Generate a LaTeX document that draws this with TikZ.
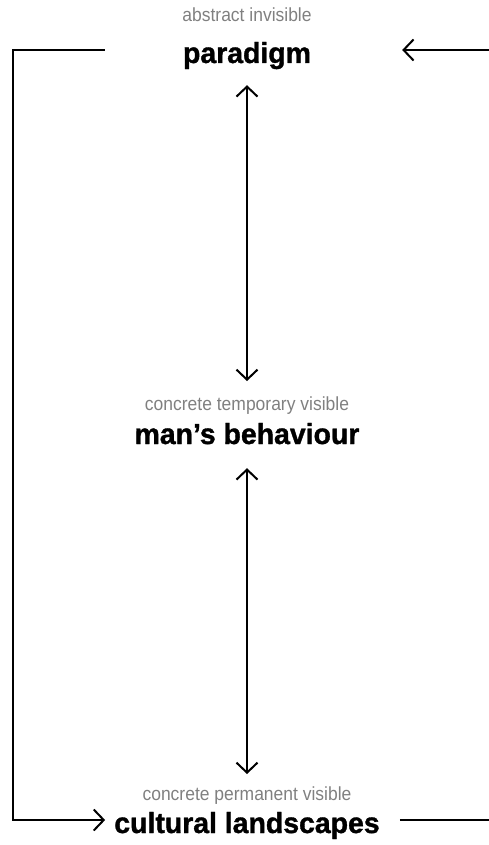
\documentclass[tikz,border=0pt]{standalone}
\usepackage{fontspec}
\setmainfont{Liberation Sans}
\newfontfamily\headfont[FakeStretch=0.98,FakeBold=1.2]{Liberation Sans}
\newfontfamily\subfont[FakeStretch=0.92]{Liberation Sans}
\usetikzlibrary{arrows.meta}
\tikzset{
  sub/.style={anchor=base,inner sep=0pt,font=\subfont\fontsize{19}{20}\selectfont,text=black!50},
  hd/.style={anchor=base,inner sep=0pt,font=\headfont\bfseries\fontsize{29}{30}\selectfont,text height=26pt,text depth=0pt},
  ln/.style={line width=2pt},
  arr/.style={ln,-{Straight Barb[length=10pt,width=21pt]}},
  darr/.style={ln,{Straight Barb[length=10pt,width=21pt]}-{Straight Barb[length=10pt,width=21pt]}},
}
\begin{document}
\begin{tikzpicture}[x=1pt,y=-1pt]
\useasboundingbox (0,0) rectangle (489,845);
\node[sub] (sabs) at (247,22) {abstract invisible};
\node[hd] (para) at (247,63) {paradigm};
\node[sub] (stemp) at (247,410) {concrete temporary visible};
\node[hd] (man) at (247,444) {man’s behaviour};
\node[sub] (sperm) at (247,800) {concrete permanent visible};
\node[hd] (cult) at (247,833) {cultural landscapes};
\coordinate (rail) at (13,440);
\coordinate (intop) at (489,50);
\coordinate (outbot) at (489,820);
\draw[darr,shorten <=22pt,shorten >=15pt] (para.south) -- (stemp.north);
\draw[darr,shorten <=24pt,shorten >=12pt] (man.south) -- (sperm.north);
\draw[arr,shorten <=78pt,shorten >=9pt] (para.west) -| (rail) |- (cult.west);
\draw[arr,shorten >=91pt] (intop) -- (para.east);
\draw[ln,shorten <=20pt] (cult.east) -- (outbot);
\end{tikzpicture}
\end{document}
